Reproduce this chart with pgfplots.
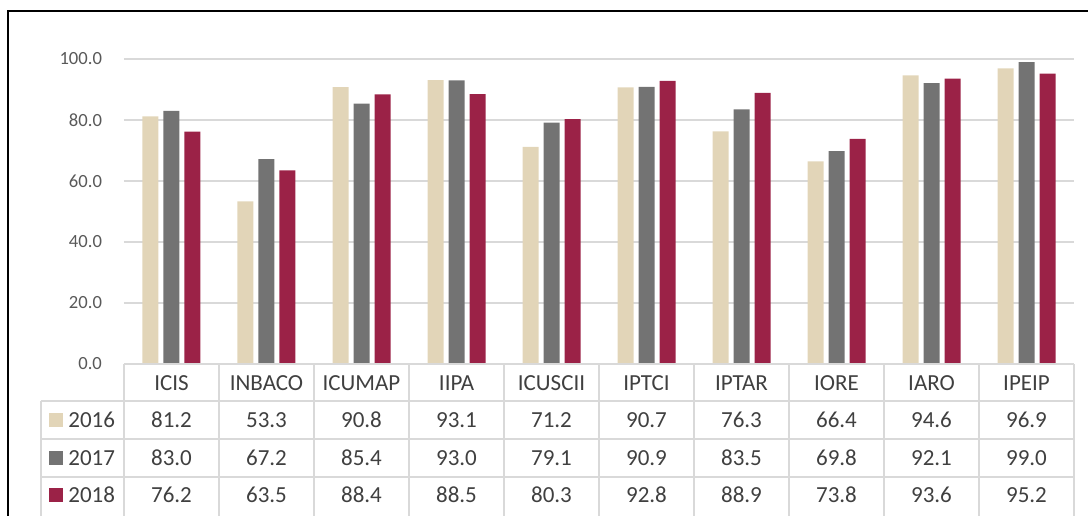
\documentclass[border=0pt]{standalone}
\usepackage{pgfplots}
\usepackage{pgfplotstable}
\pgfplotsset{compat=1.18}
\usepackage{fontspec}
\setmainfont{Carlito}
\definecolor{cBeige}{HTML}{E2D5B8}
\definecolor{cGray}{HTML}{737373}
\definecolor{cMaroon}{HTML}{9B2247}
\definecolor{cGrid}{HTML}{D9D9D9}
\definecolor{cText}{HTML}{404040}
\definecolor{cTick}{HTML}{595959}
\pgfkeys{/pgf/number format/assume math mode=true}
\pgfplotstableread{
x cat y16 y17 y18
0 ICIS 81.2 83.0 76.2
1 INBACO 53.3 67.2 63.5
2 ICUMAP 90.8 85.4 88.4
3 IIPA 93.1 93.0 88.5
4 ICUSCII 71.2 79.1 80.3
5 IPTCI 90.7 90.9 92.8
6 IPTAR 76.3 83.5 88.9
7 IORE 66.4 69.8 73.8
8 IARO 94.6 92.1 93.6
9 IPEIP 96.9 99.0 95.2
}\datatable
\begin{document}
\begin{tikzpicture}
\begin{axis}[
  at={(0,0)}, anchor=south west,
  scale only axis, width=475pt, height=152.5pt,
  xmin=-0.5, xmax=9.5, ymin=0, ymax=100,
  ybar=2.5pt, bar width=8pt,
  axis line style={draw=none},
  major tick length=0pt,
  xtick=data,
  xticklabels from table={\datatable}{cat},
  xticklabel style={anchor=base, yshift=-13pt, font=\fontsize{11.5}{13}\selectfont, text=cText},
  ytick={0,20,...,100},
  yticklabel style={font=\fontsize{9.3}{11}\selectfont, text=cTick, xshift=-7.5pt},
  yticklabel={\pgfmathprintnumber[fixed, fixed zerofill, precision=1, assume math mode=true]{\tick}},
  ymajorgrids, grid style={cGrid, line width=0.75pt},
  clip=false,
]
\addplot[fill=cBeige, draw=none] table[x=x, y=y16]{\datatable};
\addplot[fill=cGray, draw=none] table[x=x, y=y17]{\datatable};
\addplot[fill=cMaroon, draw=none] table[x=x, y=y18]{\datatable};
\end{axis}
% data table
\begin{scope}[cGrid, line width=0.75pt]
  \draw (0,0) -- (475pt,0);
  \foreach \yy in {-18.5,-37.5,-56.5} \draw (-41.5pt,\yy pt) -- (475pt,\yy pt);
  \draw (-41.5pt,-18.5pt) -- (-41.5pt,-80pt);
  \foreach \k in {0,...,10} \draw (\k*47.5pt,0) -- (\k*47.5pt,-80pt);
\end{scope}
\fill[cBeige] (-37.5pt,-31.5pt) rectangle (-30.5pt,-24.5pt);
\fill[cGray] (-37.5pt,-50.4pt) rectangle (-30.5pt,-43.4pt);
\fill[cMaroon] (-37.5pt,-69.2pt) rectangle (-30.5pt,-62.2pt);
\begin{scope}[every node/.style={text=cText, font=\fontsize{11.5}{13}\selectfont, inner sep=0pt}]
\node[anchor=base west] at (-28pt,-31.65pt) {2016};
\node[anchor=base west] at (-28pt,-50.5pt) {2017};
\node[anchor=base west] at (-28pt,-69.15pt) {2018};
\foreach \i in {0,...,9} {
  \pgfplotstablegetelem{\i}{y16}\of\datatable
  \node[anchor=base] at ({(\i+0.5)*47.5pt},-31.65pt) {\pgfmathprintnumber[fixed, fixed zerofill, precision=1]{\pgfplotsretval}};
  \pgfplotstablegetelem{\i}{y17}\of\datatable
  \node[anchor=base] at ({(\i+0.5)*47.5pt},-50.5pt) {\pgfmathprintnumber[fixed, fixed zerofill, precision=1]{\pgfplotsretval}};
  \pgfplotstablegetelem{\i}{y18}\of\datatable
  \node[anchor=base] at ({(\i+0.5)*47.5pt},-69.15pt) {\pgfmathprintnumber[fixed, fixed zerofill, precision=1]{\pgfplotsretval}};
}
\end{scope}
% frame
\draw[black, line width=1pt] (-57.75pt,-80pt) -- (-57.75pt,176.25pt) -- (490pt,176.25pt);
\pgfresetboundingbox
\path[use as bounding box] (-62pt,-75.5pt) rectangle (482pt,182pt);
\end{tikzpicture}
\end{document}
